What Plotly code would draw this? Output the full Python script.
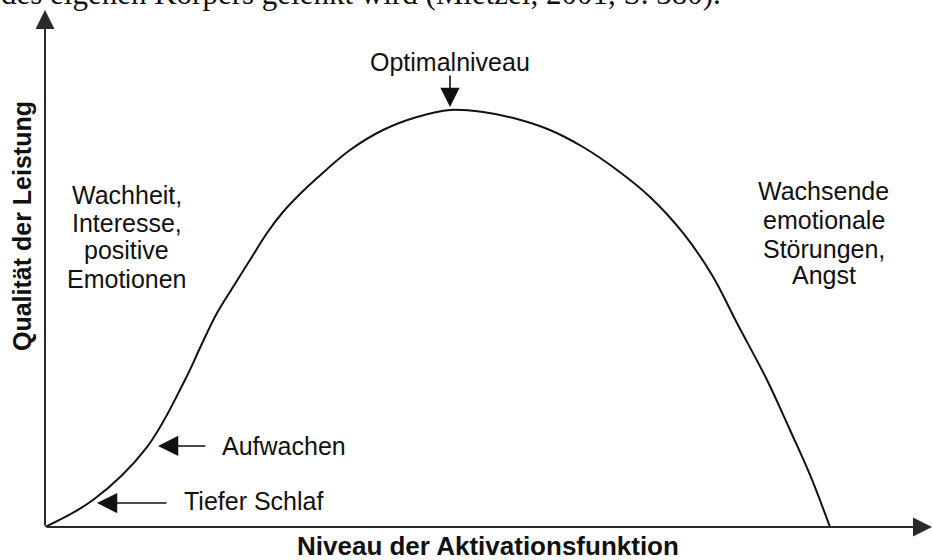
import plotly.graph_objects as go

# Performance curve (Yerkes-Dodson style): activation level vs. quality of performance
activation = [0.0, 5.41, 11.50, 15.78, 17.47, 19.39, 21.20, 23.11, 25.03, 26.83, 28.75,
              30.67, 34.39, 38.11, 41.94, 45.66, 49.38, 53.21, 56.93, 60.65, 64.49,
              68.21, 71.93, 75.20, 78.13, 81.40, 83.99, 86.25, 88.50]
performance = [0.0, 5.22, 15.47, 28.43, 34.62, 41.39, 46.42, 51.64, 56.87, 60.93, 64.41,
               67.50, 72.92, 76.79, 79.30, 80.66, 80.27, 78.92, 76.79, 73.50, 69.05,
               63.83, 56.87, 48.74, 39.07, 28.43, 18.76, 10.06, 0.0]

left_lines = ["Wachheit,", "Interesse,", "positive", "Emotionen"]
right_lines = ["Wachsende", "emotionale", "Störungen,", "Angst"]
x_title = "Niveau der Aktivationsfunktion"
y_title = "Qualität der Leistung"
caption = "des eigenen Körpers gelenkt wird (Mietzel, 2001, S. 380)."

SANS = "Liberation Sans, Arial, Helvetica, sans-serif"
SERIF = "Liberation Serif, Times New Roman, serif"
INK = "#111111"
AXIS = "#2a2a2a"

fig = go.Figure()
fig.add_trace(go.Scatter(
    x=activation, y=performance, mode="lines",
    line=dict(color=INK, width=2, shape="spline", smoothing=1.0),
    hoverinfo="skip", showlegend=False,
))

ann = []

def arrow(x, y, ax, ay, width, size, color=INK):
    ann.append(dict(x=x, y=y, ax=ax, ay=ay, xref="x", yref="y", axref="x", ayref="y",
                    text="", showarrow=True, arrowhead=2, arrowsize=size,
                    arrowwidth=width, arrowcolor=color, standoff=0, startstandoff=0))

def label(text, x, y, size=25, xanchor="center", yanchor="middle", bold=False,
          angle=0, family=SANS, xref="x", yref="y"):
    ann.append(dict(x=x, y=y, xref=xref, yref=yref, text=text, showarrow=False,
                    xanchor=xanchor, yanchor=yanchor, textangle=angle,
                    font=dict(family=family, size=size, color=INK,
                              weight="bold" if bold else "normal")))

# axes drawn as arrows
arrow(100, 0, 0, 0, 2, 1.9, AXIS)
arrow(0, 100, 0, 0, 2, 1.9, AXIS)

# region descriptions
for txt, yy in zip(left_lines, [64.22, 58.80, 53.58, 47.97]):
    label(txt, 9.24, yy)
for txt, yy in zip(right_lines, [64.99, 59.38, 53.77, 48.74]):
    label(txt, 87.82, yy)

# pointers
label("Optimalniveau", 45.66, 89.94)
arrow(45.66, 81.24, 45.66, 87.62, 1.6, 2.4)
label("Aufwachen", 19.73, 15.67, xanchor="left")
arrow(12.74, 15.67, 18.26, 15.67, 1.5, 2.7)
label("Tiefer Schlaf", 15.45, 5.03, xanchor="left")
arrow(5.86, 4.64, 13.87, 4.64, 1.5, 2.7)

# axis titles (placed in paper space, outside the plotting area)
label(y_title, -0.0259, 0.5822, size=25, bold=True, angle=-90, xref="paper", yref="paper")
label(x_title, 0.4994, -0.0375, size=26, bold=True, xref="paper", yref="paper")

# running text above the figure, partly running off the top edge
label(caption, -0.0519, 0.9942, size=31, xanchor="left", yanchor="bottom",
      family=SERIF, xref="paper", yref="paper")

fig.update_layout(
    width=932, height=560,
    margin=dict(l=45, r=0, t=10, b=33, pad=0),
    paper_bgcolor="white", plot_bgcolor="white",
    xaxis=dict(range=[0, 100], visible=False, fixedrange=True),
    yaxis=dict(range=[0, 100], visible=False, fixedrange=True),
    annotations=ann,
    showlegend=False,
)

fig.write_html("out.html")
